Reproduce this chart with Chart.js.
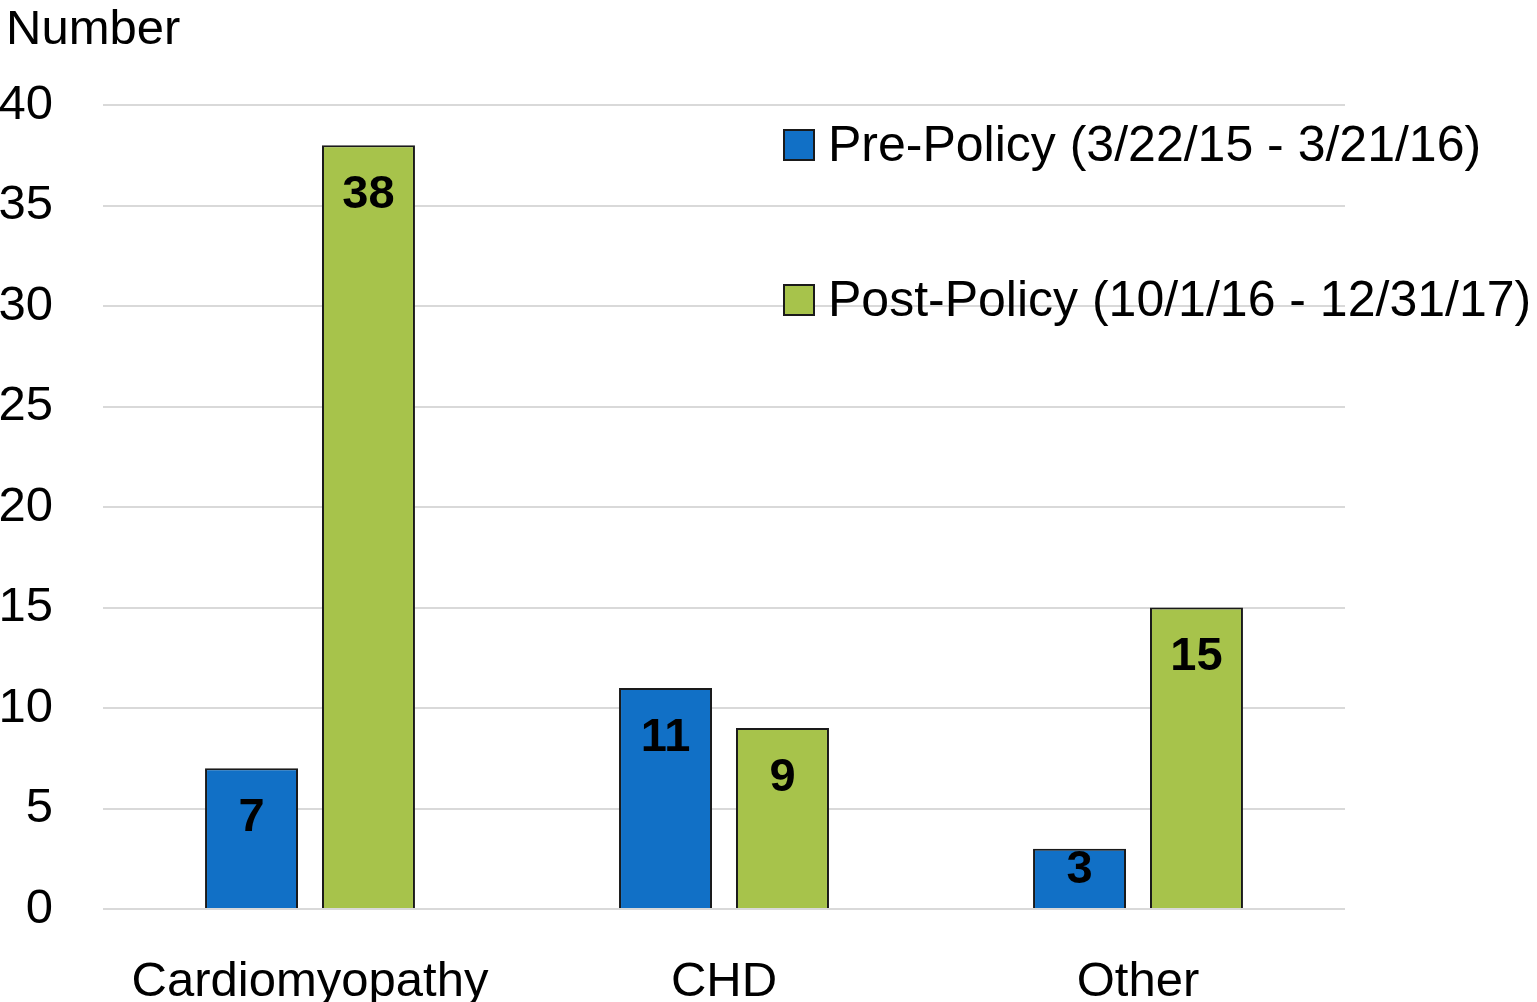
<!DOCTYPE html>
<html>
<head>
<meta charset="utf-8">
<script src="https://cdn.jsdelivr.net/npm/chart.js@4.4.1/dist/chart.umd.min.js"></script>
<style>
  html, body { margin: 0; padding: 0; background: #fff; }
  #wrap { width: 1537px; height: 1002px; position: relative; }
</style>
</head>
<body>
<div id="wrap"><canvas id="grafico"></canvas></div>
<script>
// datos
const categorias = ['Cardiomyopathy', 'CHD', 'Other'];
const preLabel   = 'Pre-Policy (3/22/15 - 3/21/16)';
const postLabel  = 'Post-Policy (10/1/16 - 12/31/17)';
const preValores  = [7, 11, 3];
const postValores = [38, 9, 15];
const ejeY = { min: 0, max: 40, paso: 5, titulo: 'Number' };

const FUENTE = '"Liberation Sans", Arial, sans-serif';
const AZUL  = '#1170C6';
const VERDE = '#A7C34B';

// etiquetas dentro del extremo de cada barra
const etiquetasBarras = {
    id: 'etiquetasBarras',
    afterDatasetsDraw(chart) {
        const ctx = chart.ctx;
        ctx.save();
        ctx.font = 'bold 47px ' + FUENTE;
        ctx.fillStyle = '#000';
        ctx.textAlign = 'center';
        ctx.textBaseline = 'middle';
        chart.data.datasets.forEach(function (ds, i) {
            chart.getDatasetMeta(i).data.forEach(function (bar, j) {
                const y = Math.min(bar.y + 50, bar.base - 38);
                ctx.fillText(String(ds.data[j]), bar.x, y);
            });
        });
        ctx.restore();
    }
};

// título del eje y leyenda (arriba a la derecha)
const leyendaManual = {
    id: 'leyendaManual',
    afterDraw(chart) {
        const ctx = chart.ctx;
        ctx.save();
        ctx.font = '49px ' + FUENTE;
        ctx.fillStyle = '#000';
        ctx.textBaseline = 'middle';
        ctx.textAlign = 'left';
        ctx.fillText(ejeY.titulo, 6, 30);

        ctx.font = '50px ' + FUENTE;
        const filas = [
            { texto: preLabel,  color: AZUL,  y: 145 },
            { texto: postLabel, color: VERDE, y: 300 }
        ];
        filas.forEach(function (f) {
            ctx.fillStyle = f.color;
            ctx.fillRect(784, f.y - 15, 30, 30);
            ctx.strokeStyle = '#1a1a1a';
            ctx.lineWidth = 2;
            ctx.strokeRect(784, f.y - 15, 30, 30);
            ctx.fillStyle = '#000';
            ctx.fillText(f.texto, 828, f.y + 2);
        });
        ctx.restore();
    }
};

new Chart(document.getElementById('grafico'), {
    type: 'bar',
    data: {
        labels: categorias,
        datasets: [
            {
                label: preLabel,
                data: preValores,
                backgroundColor: AZUL,
                borderColor: '#1a1a1a',
                borderWidth: 2,
                categoryPercentage: 0.565,
                barPercentage: 0.795
            },
            {
                label: postLabel,
                data: postValores,
                backgroundColor: VERDE,
                borderColor: '#1a1a1a',
                borderWidth: 2,
                categoryPercentage: 0.565,
                barPercentage: 0.795
            }
        ]
    },
    options: {
        responsive: true,
        maintainAspectRatio: false,
        animation: false,
        layout: { padding: { top: 105, right: 192, left: 0, bottom: 0 } },
        plugins: {
            legend: { display: false },
            tooltip: { enabled: false }
        },
        scales: {
            x: {
                grid: { display: false },
                border: { display: false },
                ticks: {
                    color: '#000',
                    font: { family: FUENTE, size: 49 },
                    padding: 36,
                    maxRotation: 0
                },
                afterFit: function (scale) { scale.height = 93; }
            },
            y: {
                min: ejeY.min,
                max: ejeY.max,
                grid: { color: '#D9D9D9', lineWidth: 2, drawTicks: false },
                border: { display: false },
                ticks: {
                    stepSize: ejeY.paso,
                    color: '#000',
                    font: { family: FUENTE, size: 49 },
                    padding: 50
                },
                afterFit: function (scale) { scale.width = 103; }
            }
        }
    },
    plugins: [etiquetasBarras, leyendaManual]
});
</script>
</body>
</html>
